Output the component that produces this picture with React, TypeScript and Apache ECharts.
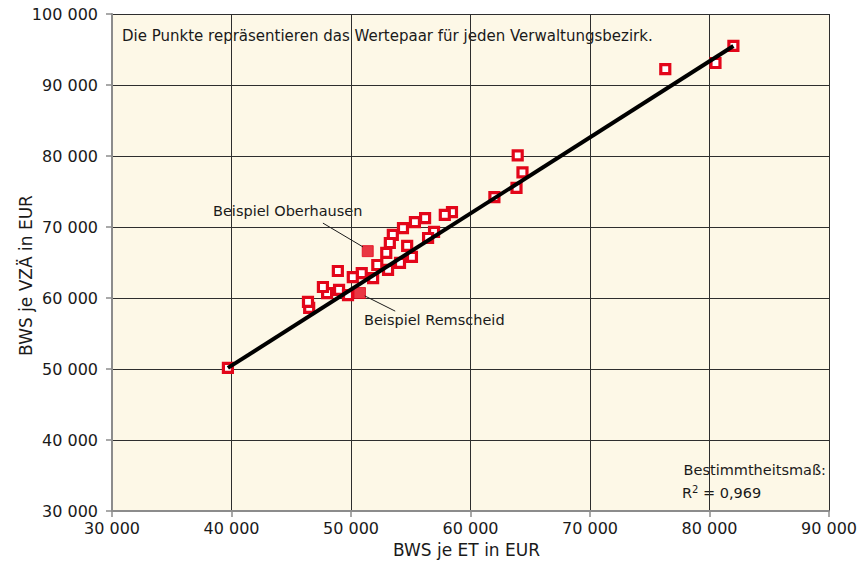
import React, { useEffect, useRef } from "react";
import * as echarts from "echarts";

// Hollow points: one pair (BWS je ET, BWS je VZÄ) per Verwaltungsbezirk
const pointsX = [39700, 82000, 76300, 80500, 63950, 64350, 63850, 62000, 58450, 57850, 56200, 55350, 54350, 53500, 56950, 56450, 54700, 53250, 52950, 54100, 55100, 52200, 53100, 50900, 50150, 51850, 48900, 49000, 48000, 47650, 49750, 46500, 46400];
const pointsY = [50150, 95500, 92250, 93100, 80100, 77700, 75500, 74200, 72100, 71700, 71250, 70700, 69850, 68900, 69300, 68450, 67350, 67750, 66350, 64950, 65800, 64650, 63950, 63500, 62950, 62800, 63800, 61150, 60700, 61550, 60400, 58600, 59450];

// Highlighted examples
const exampleNames = ["Beispiel Oberhausen", "Beispiel Remscheid"];
const exampleX = [51400, 50750];
const exampleY = [66600, 60700];

// Regression line endpoints
const lineX = [39700, 82000];
const lineY = [50150, 95500];

// Leader lines for the example labels [x1, y1, x2, y2]
const leaderOberhausen = [47650, 70550, 51000, 67200];
const leaderRemscheid = [51150, 60300, 53700, 58150];

const xTicks = { min: 30000, max: 90000, interval: 10000 };
const yTicks = { min: 30000, max: 100000, interval: 10000 };

const r2Value = "0,969";
const FONT = "DejaVu Sans";
const RED = "#e3061a";
const TXT = "#1a1a1a";

const fmt = (v: number) => {
  const s = Math.round(v).toString();
  return s.replace(/\B(?=(\d{3})+(?!\d))/g, " ");
};

export default function App() {
  const ref = useRef<HTMLDivElement>(null);
  useEffect(() => {
    if (!ref.current) return;
    const chart = echarts.init(ref.current, null, { renderer: "svg" });
    const axisCommon = {
      type: "value" as const,
      axisLine: { show: true, onZero: false, lineStyle: { color: "#8c8c8c", width: 2 } },
      axisTick: { show: true, length: 6, lineStyle: { color: "#8c8c8c", width: 1.5 } },
      splitLine: { show: true, lineStyle: { color: "#2e2e2e", width: 1 } },
      axisLabel: { color: TXT, fontFamily: FONT, fontSize: 16, formatter: (v: number) => fmt(v) },
      nameLocation: "middle" as const,
      nameMoveOverlap: false,
    };
    chart.setOption({
      animation: false,
      backgroundColor: "#ffffff",
      textStyle: { fontFamily: FONT },
      grid: {
        left: 112,
        right: 32,
        top: 14,
        bottom: 57,
        containLabel: false,
        outerBoundsMode: "none",
        show: true,
        backgroundColor: "#fdf8e7",
        borderWidth: 0,
      },
      xAxis: {
        ...axisCommon,
        ...xTicks,
        name: "BWS je ET in EUR",
        nameGap: 30,
        nameTextStyle: { color: TXT, fontFamily: FONT, fontSize: 17, padding: [0, 8, 0, 0] },
        axisLabel: { ...axisCommon.axisLabel, margin: 9 },
      },
      yAxis: {
        ...axisCommon,
        ...yTicks,
        name: "BWS je VZÄ in EUR",
        nameGap: 78,
        nameTextStyle: { color: TXT, fontFamily: FONT, fontSize: 17, padding: [0, 26, 0, 0] },
        axisLabel: { ...axisCommon.axisLabel, margin: 14 },
      },
      series: [
        {
          type: "scatter",
          symbol: "rect",
          symbolSize: 9,
          z: 2,
          itemStyle: { color: "#ffffff", borderColor: RED, borderWidth: 3.2, opacity: 1 },
          data: pointsX.map((x, i) => [x, pointsY[i]]),
        },
        {
          type: "scatter",
          symbol: "rect",
          symbolSize: 11,
          z: 3,
          itemStyle: { color: RED, borderColor: RED, borderWidth: 1 },
          data: exampleX.map((x, i) => ({ name: exampleNames[i], value: [x, exampleY[i]] })),
          markLine: {
            silent: true,
            symbol: ["none", "none"],
            label: { show: false },
            lineStyle: { color: TXT, width: 1, type: "solid" },
            data: [
              [
                { coord: [leaderOberhausen[0], leaderOberhausen[1]] },
                { coord: [leaderOberhausen[2], leaderOberhausen[3]] },
              ],
              [
                { coord: [leaderRemscheid[0], leaderRemscheid[1]] },
                { coord: [leaderRemscheid[2], leaderRemscheid[3]] },
              ],
            ],
          },
        },
        {
          type: "line",
          z: 4,
          symbol: "none",
          silent: true,
          lineStyle: { color: "#000000", width: 4 },
          data: lineX.map((x, i) => [x, lineY[i]]),
        },
      ],
      graphic: [
        {
          type: "text",
          left: 122,
          top: 28,
          style: {
            text: "Die Punkte repräsentieren das Wertepaar für jeden Verwaltungsbezirk.",
            fontFamily: FONT,
            fontSize: 15,
            fill: TXT,
          },
        },
        {
          type: "text",
          left: 213,
          top: 203,
          style: { text: exampleNames[0], fontFamily: FONT, fontSize: 14.5, fill: TXT },
        },
        {
          type: "text",
          left: 364,
          top: 312,
          style: { text: exampleNames[1], fontFamily: FONT, fontSize: 14.5, fill: TXT },
        },
        {
          type: "text",
          right: 35,
          top: 462,
          style: { text: "Bestimmtheitsmaß:", fontFamily: FONT, fontSize: 14.5, fill: TXT },
        },
        {
          type: "text",
          left: 682,
          top: 484,
          style: {
            text: "R{sup|2} = " + r2Value,
            fontFamily: FONT,
            fontSize: 14.5,
            fill: TXT,
            rich: {
              sup: { fontFamily: FONT, fontSize: 10, verticalAlign: "top", padding: [0, 0, 8, 0], fill: TXT },
            },
          },
        },
      ],
    });
    return () => chart.dispose();
  }, []);
  return <div ref={ref} style={{ width: 861, height: 568, position: "absolute", left: 0, top: 0 }} />;
}
